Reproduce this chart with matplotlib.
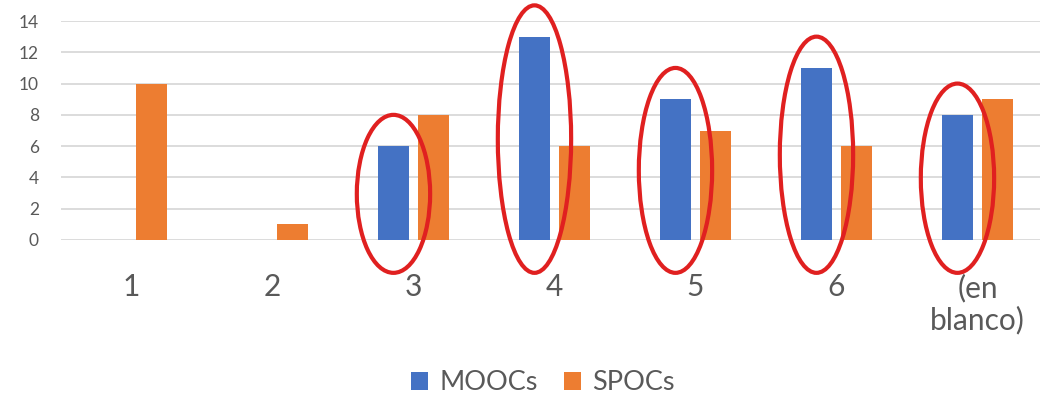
import matplotlib.pyplot as plt
from matplotlib.patches import Ellipse
import numpy as np

plt.rcParams['font.family'] = ['Lato', 'DejaVu Sans']

categories = ['1', '2', '3', '4', '5', '6', '(en\nblanco)']
moocs = [0, 0, 6, 13, 9, 11, 8]
spocs = [10, 1, 8, 6, 7, 6, 9]
circled = [2, 3, 4, 5, 6]  # index of MOOC bars with a red ring

blue = '#4472C4'
orange = '#ED7D31'
ring = '#E02020'
grey_text = '#595959'

W, H = 1040, 395
fig = plt.figure(figsize=(W / 100, H / 100), dpi=100)
# plot area in pixels: x 61..1048, y 21..240
ax = fig.add_axes([61 / W, (H - 240) / H, (1048 - 61) / W, (240 - 21) / H])

x = np.arange(len(categories))
bw = 0.22
off = 0.142
ax.bar(x - off, moocs, bw, color=blue, label='MOOCs', zorder=2)
ax.bar(x + off, spocs, bw, color=orange, label='SPOCs', zorder=2)

# red rings round the MOOC bars
for i in circled:
    top = moocs[i] + 2.0
    bottom = -2.1
    e = Ellipse((x[i] - off, (top + bottom) / 2), 0.52, top - bottom,
                fill=False, edgecolor=ring, linewidth=3.0, clip_on=False, zorder=3)
    ax.add_patch(e)

ax.set_xlim(-0.5, len(categories) - 0.5)
ax.set_ylim(0, 14)
ax.set_yticks(range(0, 15, 2))
ax.set_xticks(x)
ax.set_xticklabels(categories, fontsize=21.5, color=grey_text, linespacing=1.15)
ax.tick_params(axis='x', length=0, pad=24)
ax.tick_params(axis='y', length=0, pad=16, labelsize=12.5, labelcolor=grey_text)
ax.grid(axis='y', color='#D9D9D9', linewidth=1.3, zorder=0)
ax.set_axisbelow(True)
for s in ax.spines.values():
    s.set_visible(False)

fig.legend(loc='center', bbox_to_anchor=(543 / W, 1 - 383 / H), ncol=2,
           frameon=False, fontsize=19.5, labelcolor=grey_text,
           handlelength=0.6, handleheight=0.6, handletextpad=0.42,
           columnspacing=1.0, borderpad=0)

fig.savefig('out.png', dpi=100)
